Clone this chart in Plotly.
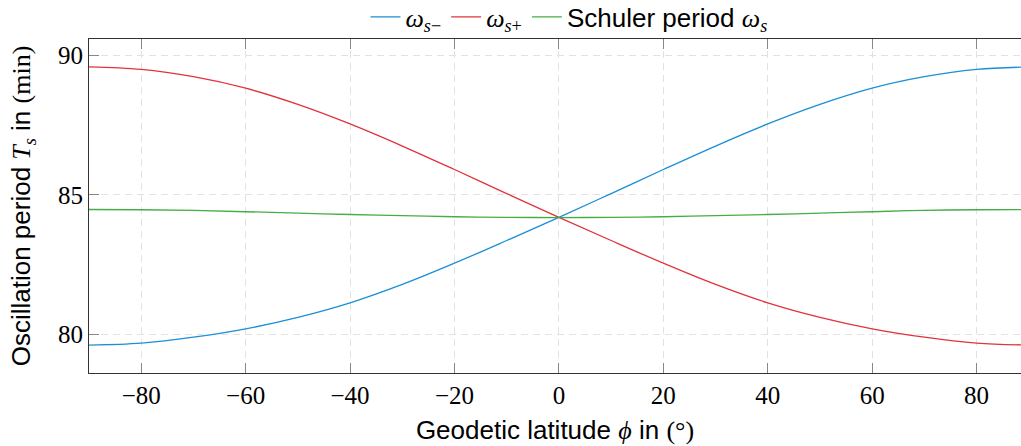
import plotly.graph_objects as go

latitude = [-90, -80, -70, -60, -50, -40, -30, -20, -10, 0, 10, 20, 30, 40, 50, 60, 70, 80, 90]
omega_s_minus = [79.63, 79.70, 79.91, 80.21, 80.62, 81.14, 81.80, 82.56, 83.37, 84.20,
                 85.05, 85.91, 86.75, 87.54, 88.24, 88.82, 89.23, 89.49, 89.58]
omega_s_plus = [89.58, 89.49, 89.23, 88.82, 88.24, 87.54, 86.75, 85.91, 85.05, 84.20,
                83.37, 82.56, 81.80, 81.14, 80.62, 80.21, 79.91, 79.70, 79.63]
schuler = [84.48, 84.47, 84.45, 84.40, 84.35, 84.30, 84.26, 84.22, 84.20, 84.19,
           84.20, 84.22, 84.26, 84.30, 84.35, 84.40, 84.45, 84.47, 84.48]

x_ticks = [-80, -60, -40, -20, 0, 20, 40, 60, 80]
y_ticks = [80, 85, 90]

SERIF = "Liberation Serif"
SANS = "Liberation Sans"

def math(s):
    return f"<span style='font-family:{SERIF}'>{s}</span>"

fig = go.Figure()
fig.add_trace(go.Scatter(x=latitude, y=omega_s_minus, mode="lines", line=dict(color="#1a8fd6", width=1.3, shape="spline"),
                         name=math("<i>ω</i><sub><i>s</i>−</sub>")))
fig.add_trace(go.Scatter(x=latitude, y=omega_s_plus, mode="lines", line=dict(color="#e0333c", width=1.3, shape="spline"),
                         name=math("<i>ω</i><sub><i>s</i>+</sub>")))
fig.add_trace(go.Scatter(x=latitude, y=schuler, mode="lines", line=dict(color="#45ad45", width=1.3, shape="spline"),
                         name="Schuler period " + math("<i>ω</i><sub><i>s</i></sub>")))

fig.update_layout(
    width=1021, height=446,
    margin=dict(l=89, r=0, t=39, b=73, autoexpand=False),
    paper_bgcolor="white", plot_bgcolor="white",
    font=dict(family=SANS, size=21, color="black"),
    legend=dict(orientation="h", x=0.515, xanchor="center", yref="container", y=0.962, yanchor="middle",
                font=dict(family=SANS, size=26), bgcolor="rgba(0,0,0,0)",
                itemwidth=30, tracegroupgap=0),
    showlegend=True,
)
fig.update_xaxes(
    range=[-90, 88.5], tickvals=x_ticks, ticks="inside", ticklen=10, tickcolor="#888888",
    showline=True, linecolor="#333333", linewidth=1.2, mirror="ticks",
    showgrid=True, gridcolor="#e2e2e2", griddash="7px,5px", gridwidth=1,
    zeroline=False, tickfont=dict(family=SERIF, size=25),
    title=dict(text="Geodetic latitude " + math("<i>ϕ</i>") + " in " + math("(°)"),
               font=dict(family=SANS, size=26), standoff=12),
)
fig.update_yaxes(
    range=[78.63, 90.58], tickvals=y_ticks, ticks="inside", ticklen=10, tickcolor="#888888",
    showline=True, linecolor="#333333", linewidth=1.2, mirror=False,
    showgrid=True, gridcolor="#e2e2e2", griddash="7px,5px", gridwidth=1,
    zeroline=False, tickfont=dict(family=SERIF, size=25),
    title=dict(text="Oscillation period " + math("<i>T<sub>s</sub></i>") + " in " + math("(min)"),
               font=dict(family=SANS, size=26), standoff=19),
)

fig.write_html("out.html")
